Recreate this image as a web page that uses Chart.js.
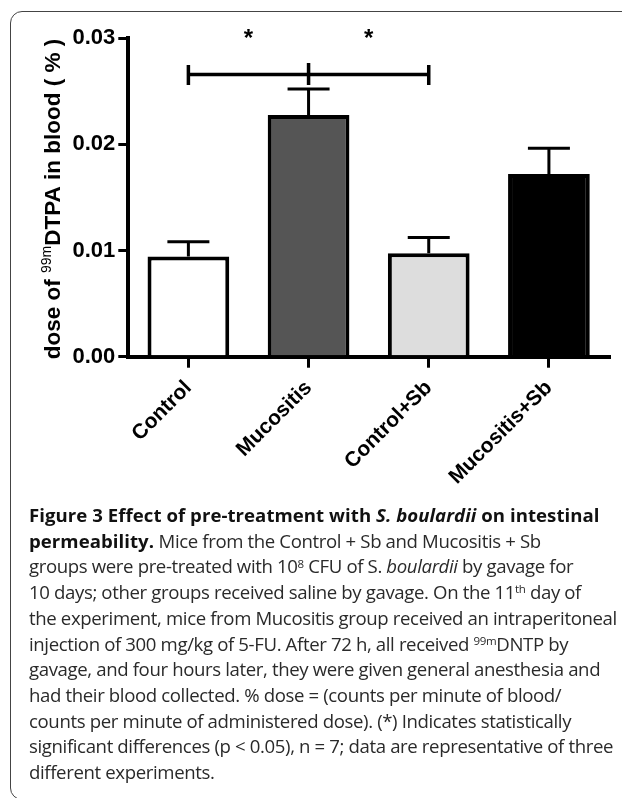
<!DOCTYPE html>
<html>
<head>
<meta charset="utf-8">
<script src="https://cdn.jsdelivr.net/npm/chart.js@4"></script>
<style>
  html, body { margin: 0; padding: 0; background: #fff; }
  body { width: 622px; height: 798px; position: relative; overflow: hidden; }
  #frame {
    position: absolute; left: 10px; top: 11px; width: 700px; height: 789px;
    border: 1.5px solid #444; border-radius: 12px; box-sizing: border-box;
  }
  #chart-wrap { position: absolute; left: 0; top: 0; width: 622px; height: 500px; }
  #caption {
    position: absolute; left: 29px; top: 502px;
    font-family: "Open Sans", sans-serif; font-size: 18.6px; line-height: 25.7px;
    color: #2a2a2a; white-space: nowrap; letter-spacing: -0.37px;
  }
  #caption b { font-weight: 700; color: #111; letter-spacing: 0.05px; }
  #caption sup { font-size: 0.62em; position: relative; top: -0.5em; vertical-align: 0; line-height: 0; }
</style>
</head>
<body>
<div id="chart-wrap"><canvas id="dose-chart" width="622" height="500"></canvas></div>
<div id="frame"></div>
<div id="caption">
  <b>Figure 3 Effect of pre-treatment with <i>S. boulardii</i> on intestinal</b><br>
  <b>permeability.</b> Mice from the Control + Sb and Mucositis + Sb<br>
  groups were pre-treated with 10<sup>8</sup> CFU of S. <i>boulardii</i> by gavage for<br>
  10 days; other groups received saline by gavage. On the 11<sup>th</sup> day of<br>
  the experiment, mice from Mucositis group received an intraperitoneal<br>
  injection of 300 mg/kg of 5-FU. After 72 h, all received <sup>99m</sup>DNTP by<br>
  gavage, and four hours later, they were given general anesthesia and<br>
  had their blood collected. % dose = (counts per minute of blood/<br>
  counts per minute of administered dose). (*) Indicates statistically<br>
  significant differences (p &lt; 0.05), n = 7; data are representative of three<br>
  different experiments.
</div>
<script>
// values
const groups = ['Control', 'Mucositis', 'Control+Sb', 'Mucositis+Sb'];
const meanDose = [0.00943, 0.02278, 0.00975, 0.01722];
const semDose = [0.00141, 0.00245, 0.00147, 0.00242];
const barColors = ['#ffffff', '#555555', '#dddddd', '#000000'];
const yTickValues = [0, 0.01, 0.02, 0.03];

// significance bracket Control -- Mucositis -- Control+Sb, stars in between
const bracketIndexes = [0, 1, 2];
const bracketLevel = 0.0266;
const starIndexes = [0.5, 1.5];
const starLevel = 0.0304;

const FONT = '"Liberation Sans", Arial, sans-serif';

// error bars (upper SEM only)
const errorBarPlugin = {
    id: 'errorBars',
    afterDatasetsDraw(chart) {
        const ctx = chart.ctx;
        const x = chart.scales.x, y = chart.scales.y;
        ctx.save();
        ctx.strokeStyle = '#000';
        ctx.lineWidth = 3;
        ctx.lineCap = 'butt';
        meanDose.forEach((m, i) => {
            const px = x.getPixelForValue(i);
            const top = y.getPixelForValue(m + semDose[i]);
            ctx.beginPath();
            ctx.moveTo(px, y.getPixelForValue(m));
            ctx.lineTo(px, top);
            ctx.moveTo(px - 21, top);
            ctx.lineTo(px + 21, top);
            ctx.stroke();
        });
        ctx.restore();
    }
};

// bracket and stars
const significancePlugin = {
    id: 'significance',
    afterDraw(chart) {
        const ctx = chart.ctx;
        const x = chart.scales.x, y = chart.scales.y;
        const by = y.getPixelForValue(bracketLevel);
        const xs = bracketIndexes.map(i => x.getPixelForValue(i));
        ctx.save();
        ctx.strokeStyle = '#000';
        ctx.lineWidth = 3.5;
        ctx.beginPath();
        ctx.moveTo(xs[0], by);
        ctx.lineTo(xs[xs.length - 1], by);
        xs.forEach((px, k) => {
            const up = k === 1 ? 11.5 : 9.5;
            ctx.moveTo(px, by - up);
            ctx.lineTo(px, by + 10.5);
        });
        ctx.stroke();

        ctx.fillStyle = '#000';
        ctx.font = 'bold 24px ' + FONT;
        ctx.textAlign = 'center';
        ctx.textBaseline = 'alphabetic';
        const sy = y.getPixelForValue(starLevel);
        starIndexes.forEach(v => {
            ctx.fillText('*', x.getPixelForValue(v), sy + 12);
        });
        ctx.restore();
    }
};

// y title with superscript 99m
const yTitlePlugin = {
    id: 'yTitle',
    afterDraw(chart) {
        const ctx = chart.ctx;
        const parts = [
            { t: 'dose of ', size: 22.5, rise: 0 },
            { t: '99m', size: 14, rise: 9 },
            { t: 'DTPA in blood ( % )', size: 22.5, rise: 0 }
        ];
        ctx.save();
        let total = 0;
        parts.forEach(p => {
            ctx.font = (p.rise ? '' : 'bold ') + p.size + 'px ' + FONT;
            p.w = ctx.measureText(p.t).width;
            total += p.w;
        });
        ctx.translate(60, 199);
        ctx.rotate(-Math.PI / 2);
        ctx.fillStyle = '#000';
        ctx.textBaseline = 'alphabetic';
        ctx.textAlign = 'left';
        let cx = -total / 2;
        parts.forEach(p => {
            ctx.font = (p.rise ? '' : 'bold ') + p.size + 'px ' + FONT;
            ctx.fillText(p.t, cx, -p.rise);
            cx += p.w;
        });
        ctx.restore();
    }
};

const ctx = document.getElementById('dose-chart').getContext('2d');
const chart = new Chart(ctx, {
    type: 'bar',
    data: {
        labels: groups,
        datasets: [{
            data: meanDose,
            backgroundColor: barColors,
            borderColor: '#000',
            borderWidth: 4,
            borderSkipped: 'start',
            categoryPercentage: 1,
            barPercentage: 0.68
        }]
    },
    options: {
        responsive: false,
        animation: false,
        devicePixelRatio: 1,
        layout: { padding: { top: 38.3, right: 13, left: 0, bottom: 0 } },
        plugins: {
            legend: { display: false },
            tooltip: { enabled: false }
        },
        scales: {
            x: {
                offset: true,
                grid: {
                    display: true, drawOnChartArea: false, drawTicks: true,
                    tickLength: 11, lineWidth: 3, color: '#000', offset: false
                },
                border: { display: true, color: '#000', width: 4 },
                ticks: {
                    color: '#000',
                    font: { family: FONT, size: 21, weight: 'bold' },
                    minRotation: 45, maxRotation: 45, padding: 8
                },
                afterFit(scale) { scale.height = 143.3; }
            },
            y: {
                min: 0,
                max: 0.03,
                grid: {
                    display: true, drawOnChartArea: false, drawTicks: true,
                    tickLength: 10, lineWidth: 3, color: '#000'
                },
                border: { display: true, color: '#000', width: 4 },
                ticks: {
                    color: '#000',
                    font: { family: FONT, size: 22, weight: 'bold' },
                    padding: 3,
                    callback: v => v.toFixed(2)
                },
                afterBuildTicks(scale) {
                    scale.ticks = yTickValues.map(v => ({ value: v }));
                },
                afterFit(scale) { scale.width = 128.3; }
            }
        }
    },
    plugins: [errorBarPlugin, significancePlugin, yTitlePlugin]
});
</script>
</body>
</html>
